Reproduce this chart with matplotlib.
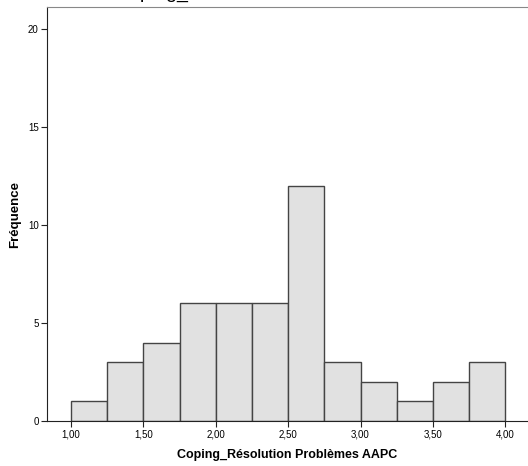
import matplotlib.pyplot as plt
import numpy as np

# histogramme : bornes des classes et effectifs
bin_edges = [1.00, 1.25, 1.50, 1.75, 2.00, 2.25, 2.50, 2.75, 3.00, 3.25, 3.50, 3.75, 4.00]
counts = [1, 3, 4, 6, 6, 6, 12, 3, 2, 1, 2, 3]
x_ticks = [1.00, 1.50, 2.00, 2.50, 3.00, 3.50, 4.00]
y_ticks = [0, 5, 10, 15, 20]

plt.rcParams['font.family'] = ['Liberation Sans', 'DejaVu Sans']

fig = plt.figure(figsize=(5.28, 4.66), dpi=100)
ax = fig.add_axes([0.089, 0.0966, 0.911, 0.888])

# barres
lefts = np.array(bin_edges[:-1])
widths = np.diff(bin_edges)
ax.bar(lefts, counts, width=widths, align='edge',
       color='#e1e1e1', edgecolor='#444444', linewidth=1.0)

ax.set_xlim(0.834, 4.157)
ax.set_ylim(0, 21.12)

ax.set_xticks(x_ticks)
ax.set_xticklabels([f"{v:.2f}".replace('.', ',') for v in x_ticks])
ax.set_yticks(y_ticks)
ax.tick_params(axis='both', labelsize=7, length=4, width=0.8, color='#222222', pad=2)

# cadre
ax.spines['left'].set_color('#222222')
ax.spines['bottom'].set_color('#222222')
ax.spines['top'].set_color('#888888')
ax.spines['right'].set_visible(False)

ax.set_xlabel('Coping_Résolution Problèmes AAPC', fontsize=9, fontweight='bold', labelpad=7)
ax.set_ylabel('Fréquence', fontsize=9.5, fontweight='bold', labelpad=5)

# titre coupé en haut de l'image (seuls les jambages restent visibles)
fig.text(0.522, 1.0 + 2.0 / 466, 'Coping_Résolution Problèmes AAPC', fontsize=14,
         ha='center', va='baseline')

fig.savefig('out.png', dpi=100)
